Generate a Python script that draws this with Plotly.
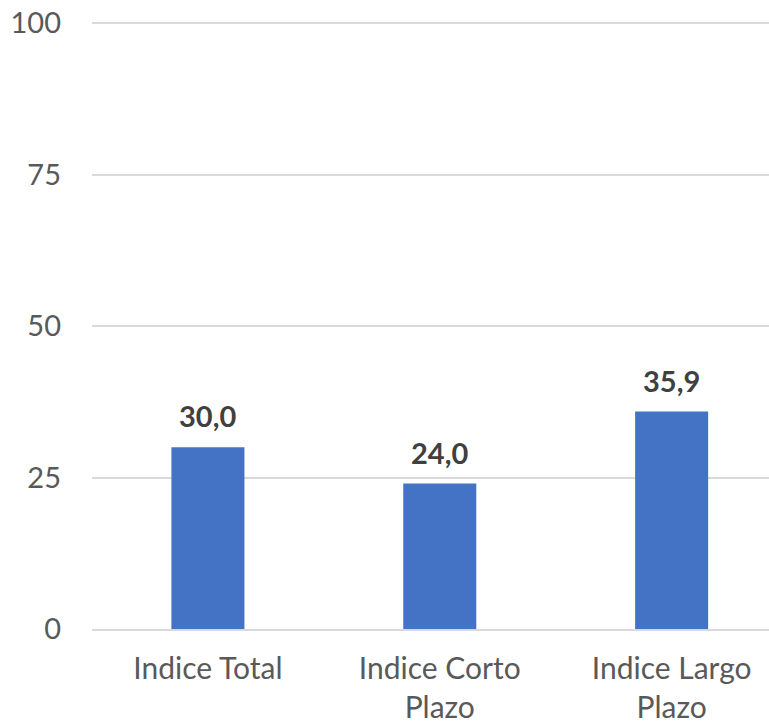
import plotly.graph_objects as go

categories = ["Indice Total", "Indice Corto<br>Plazo", "Indice Largo<br>Plazo"]
values = [30.0, 24.0, 35.9]
y_ticks = [0, 25, 50, 75, 100]

FONT = "Lato"

fig = go.Figure()
fig.add_trace(go.Bar(
    x=categories, y=values,
    marker=dict(color="#4472C4", line=dict(width=0)),
    width=0.315,
    hoverinfo="skip",
))

for c, v in zip(categories, values):
    fig.add_annotation(
        x=c, y=v, text=f"<b>{v:.1f}</b>".replace(".", ","),
        showarrow=False, yanchor="bottom", yshift=12,
        font=dict(family=FONT, size=29, color="#404040"),
    )

fig.update_layout(
    width=769, height=724,
    margin=dict(l=92, r=0, t=22, b=95),
    paper_bgcolor="white", plot_bgcolor="white",
    showlegend=False,
    font=dict(family=FONT, size=30, color="#595959"),
    xaxis=dict(
        range=[-0.5, 2.42],
        automargin=False,
        showgrid=False, zeroline=False,
        showline=True, linecolor="#D9D9D9", linewidth=1.5,
        ticks="outside", ticklen=12, tickcolor="rgba(0,0,0,0)",
        tickfont=dict(family=FONT, size=30, color="#595959"),
    ),
    yaxis=dict(
        range=[0, 100.2],
        automargin=False,
        tickvals=y_ticks,
        showgrid=True, gridcolor="#D9D9D9", gridwidth=1.5,
        zeroline=False, showline=False,
        ticklabelstandoff=30,
        ticklabeloverflow="allow",
        tickfont=dict(family=FONT, size=29, color="#595959"),
    ),
)

fig.write_html(
    "out.html",
    config={"displayModeBar": False},
    post_script="document.body.style.margin='0';document.body.style.overflow='hidden';",
)
